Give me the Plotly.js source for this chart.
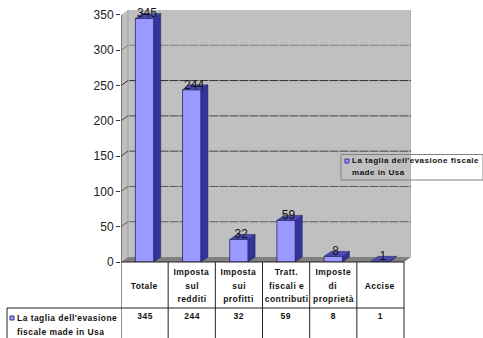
<!DOCTYPE html>
<html>
<head>
<meta charset="utf-8">
<script src="https://cdn.plot.ly/plotly-3.0.1.min.js"></script>
<style>
html,body{margin:0;padding:0;background:#fff}
#chart{width:483px;height:338px}
/* table and key captions are set slightly open */
#chart .annotation-text{letter-spacing:0.45px}
</style>
</head>
<body>
<div id="chart"></div>
<script>
// Category headers, one entry per line, and the matching figures
const categories = [['Totale'], ['Imposta', 'sul', 'redditi'], ['Imposta', 'sui', 'profitti'], ['Tratt.', 'fiscali e', 'contributi'], ['Imposte', 'di', 'proprietà'], ['Accise']];
const values = [345, 244, 32, 59, 8, 1];
const tickValues = [0, 50, 100, 150, 200, 250, 300, 350];
const gridColors = {50:'#5c5c5c', 100:'#5c5c5c', 150:'#444444', 200:'#444444', 250:'#303030', 300:'#808080'};
const tableRowCaption = ["La taglia dell'evasione", 'fiscale made in Usa'];
const keyCaption = ["La taglia dell'evasione fiscale", 'made in Usa'];

const W = 483, H = 338;
const L = 121, R = 72, T = 10, B = 76;
const depthX = 0.148, depthY = 7, barW = 0.39;
const xMin = -0.5, xMax = 5.5 + depthX, yMax = 350 + depthY;
const faceFront = '#9999ff', faceSide = '#333399', faceTop = '#4b4bb0', edge = '#23235f';
const wall = '#c0c0c0', floorCol = '#808080';
const fontFamily = '"Liberation Sans", Arial, sans-serif';

// pixel to paper helpers for the table under the plot and the key box
const plotW = W - L - R, plotH = H - T - B;
const px = x => (x - L) / plotW;
const py = y => (H - B - y) / plotH;

const shapes = [];
const poly = (pts) => 'M' + pts.map(p => p.join(',')).join('L') + 'Z';

// Back wall, side wall and floor
shapes.push({type:'path', layer:'below', xref:'x', yref:'y', line:{width:0}, fillcolor:wall,
  path: poly([[xMin,0],[xMin,350],[xMin+depthX,yMax],[xMax,yMax],[xMax,depthY],[xMax-depthX,0]])});
shapes.push({type:'path', layer:'below', xref:'x', yref:'y', line:{width:0}, fillcolor:floorCol,
  path: poly([[xMin,0],[xMin+depthX,depthY],[xMax,depthY],[xMax-depthX,0]])});
shapes.push({type:'line', layer:'below', xref:'x', yref:'y', x0:xMin+depthX, x1:xMin+depthX, y0:depthY, y1:yMax, line:{color:'#a0a0a0', width:1}});
shapes.push({type:'line', layer:'below', xref:'x', yref:'y', x0:xMax, x1:xMax, y0:depthY, y1:yMax, line:{color:'#a8a8a8', width:1}});

// Gridlines running round the wall
tickValues.filter(v => gridColors[v]).forEach(v => {
  shapes.push({type:'path', layer:'below', xref:'x', yref:'y',
    line:{color:gridColors[v], width:1, dash:'9px,1px'},
    path:`M${xMin},${v}L${xMin+depthX},${v+depthY}L${xMax},${v+depthY}`});
});
// Value axis line
shapes.push({type:'line', layer:'below', xref:'x', yref:'y', x0:xMin, x1:xMin, y0:0, y1:350, line:{color:'#333', width:1}});

// Data table grid
const tableLine = {color:'#222', width:1};
for (let i = 0; i <= categories.length; i++) {
  const c = xMin + i;
  shapes.push({type:'line', xref:'x', yref:'paper', x0:c, x1:c, y0:py(262), y1:py(338), line:tableLine});
}
shapes.push({type:'line', xref:'paper', yref:'paper', x0:px(121), x1:px(404), y0:py(262), y1:py(262), line:tableLine});
shapes.push({type:'line', xref:'paper', yref:'paper', x0:px(7), x1:px(404), y0:py(308), y1:py(308), line:tableLine});
shapes.push({type:'line', xref:'paper', yref:'paper', x0:px(7), x1:px(7), y0:py(308), y1:py(338), line:tableLine});

// Key box and its swatch
shapes.push({type:'rect', xref:'paper', yref:'paper', x0:px(341), x1:px(483), y0:py(154.5), y1:py(180), line:{color:'#808080', width:1}, fillcolor:'rgba(0,0,0,0)'});
const swatch = (x, y) => ({type:'rect', xref:'paper', yref:'paper', x0:px(x), x1:px(x+4), y0:py(y), y1:py(y+4), line:{color:faceSide, width:1}, fillcolor:faceFront});
shapes.push(swatch(345, 159));
shapes.push(swatch(10, 316));

const annotations = [];
const tableFont = {family:fontFamily, size:8.5, color:'#111', weight:700};
const keyFont = {family:fontFamily, size:8.1, color:'#111', weight:700};
const note = (text, x, y, font) => ({text, xref:'paper', yref:'paper', x:px(x), y:py(y), xanchor:'left', yanchor:'middle', align:'left', showarrow:false, font, borderpad:0});
const lineGap = 13.3, headerMid = 285.5;

categories.forEach((lines, i) => {
  lines.forEach((line, k) => {
    annotations.push({text:line, xref:'x', yref:'paper', x:i, y:py(headerMid + (k - (lines.length - 1) / 2) * lineGap),
      xanchor:'center', yanchor:'middle', align:'center', showarrow:false, font:tableFont});
  });
  annotations.push({text:String(values[i]), xref:'x', yref:'paper', x:i, y:py(316), xanchor:'center', yanchor:'middle', showarrow:false, font:tableFont});
});
tableRowCaption.forEach((t, k) => annotations.push(note(t, 16, 318 + k * 13.5, tableFont)));
keyCaption.forEach((t, k) => annotations.push(note(t, 351, 160.5 + k * 12.5, keyFont)));

// Side and top faces of each column, projected from its value
const sideFaces = values.map((v, i) => {
  const x1 = i + barW / 2;
  return {type:'scatter', mode:'lines', fill:'toself', fillcolor:faceSide, line:{color:edge, width:0.5}, hoverinfo:'skip', showlegend:false,
    x:[x1, x1+depthX, x1+depthX, x1, x1], y:[0, depthY, v+depthY, v, 0]};
});
const topFaces = values.map((v, i) => {
  const x0 = i - barW / 2, x1 = i + barW / 2;
  return {type:'scatter', mode:'lines', fill:'toself', fillcolor:faceTop, line:{color:edge, width:0.5}, hoverinfo:'skip', showlegend:false,
    x:[x0, x0+depthX, x1+depthX, x1, x0], y:[v, v+depthY, v+depthY, v, v]};
});

const data = [
  {type:'bar', x:categories.map((_, i) => i), y:values, width:barW,
   marker:{color:faceFront, line:{color:edge, width:0.8}}, showlegend:false},
  ...sideFaces, ...topFaces,
  {type:'scatter', mode:'text', x:categories.map((_, i) => i + 0.05), y:values.map(v => v + 6),
   text:values.map(String), textposition:'middle center', cliponaxis:false,
   textfont:{family:fontFamily, size:12, color:'#111'}, hoverinfo:'skip', showlegend:false}
];

const layout = {
  width:W, height:H,
  margin:{l:L, r:R, t:T, b:B, pad:0},
  paper_bgcolor:'#fff', plot_bgcolor:'#fff',
  showlegend:false, bargap:0,
  xaxis:{range:[xMin, xMax], visible:false, fixedrange:true},
  yaxis:{range:[0, yMax], tickmode:'array', tickvals:tickValues, ticktext:tickValues.map(String),
    ticks:'outside', ticklen:4, tickcolor:'#333', tickwidth:1, showgrid:false, zeroline:false, showline:false,
    tickfont:{family:fontFamily, size:12, color:'#222'}, fixedrange:true},
  shapes, annotations
};
Plotly.newPlot('chart', data, layout, {displayModeBar:false, staticPlot:true});
</script>
</body>
</html>
